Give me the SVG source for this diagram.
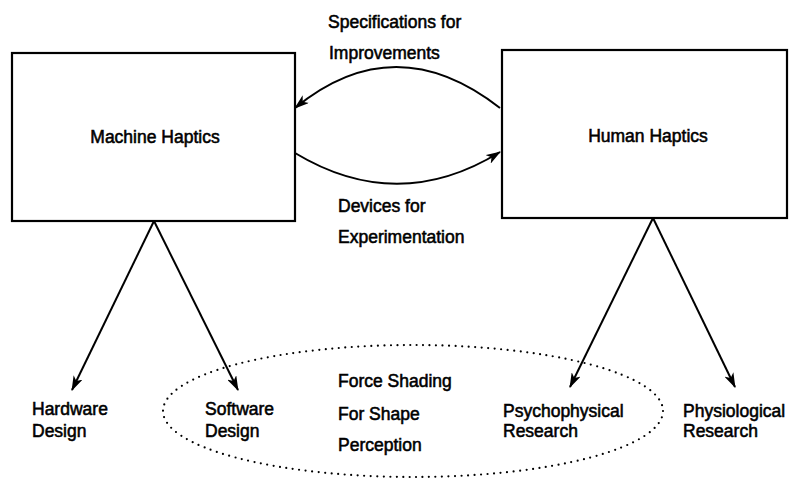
<svg xmlns="http://www.w3.org/2000/svg" width="798" height="479" viewBox="0 0 798 479">
<style>
.box{fill:#fff;stroke:#000;stroke-width:2.2}
.edge{fill:none;stroke:#000;stroke-width:2}
.dot{fill:none;stroke:#000;stroke-width:2.2;stroke-linecap:round;stroke-dasharray:0 6.5}
text{font-family:"Liberation Sans",Arial,sans-serif;font-size:17.5px;fill:#000;stroke:#000;stroke-width:0.55}
.mid{text-anchor:middle}
</style>
<defs>
<marker id="ah" viewBox="0 0 15 10" refX="14" refY="5" markerWidth="15" markerHeight="10" markerUnits="userSpaceOnUse" orient="auto">
<path d="M0,0 L15,5 L0,10 L4,5 Z" fill="#000"/>
</marker>
</defs>
<rect width="798" height="479" fill="#fff"/>
<g id="machine">
<rect class="box" x="12" y="53" width="283" height="168"/>
<text class="mid" x="155" y="143">Machine Haptics</text>
</g>
<g id="human">
<rect class="box" x="502" y="50" width="285" height="168"/>
<text class="mid" x="648" y="142">Human Haptics</text>
</g>
<g id="hardware"><text x="32" y="415">Hardware</text><text x="32" y="437">Design</text></g>
<g id="software"><text x="205" y="415">Software</text><text x="205" y="437">Design</text></g>
<g id="psychophysical"><text x="503" y="417">Psychophysical</text><text x="503" y="437">Research</text></g>
<g id="physiological"><text x="683" y="417">Physiological</text><text x="683" y="437">Research</text></g>
<g id="force-shading">
<ellipse class="dot" cx="413" cy="411" rx="250" ry="66"/>
<text x="338" y="387">Force Shading</text>
<text x="338" y="420">For Shape</text>
<text x="338" y="451">Perception</text>
</g>
<g id="connectors">
<path class="edge" d="M500,108 Q395,26 295,108" marker-end="url(#ah)"/>
<path class="edge" d="M295,153 Q398,215 500,152" marker-end="url(#ah)"/>
<path class="edge" d="M154,221 L72,390" marker-end="url(#ah)"/>
<path class="edge" d="M154,221 L238,390" marker-end="url(#ah)"/>
<path class="edge" d="M653,218 L570,387" marker-end="url(#ah)"/>
<path class="edge" d="M653,218 L735,387" marker-end="url(#ah)"/>
<text x="328" y="28">Specifications for</text>
<text x="329" y="59">Improvements</text>
<text x="338" y="212">Devices for</text>
<text x="338" y="243">Experimentation</text>
</g>
</svg>
